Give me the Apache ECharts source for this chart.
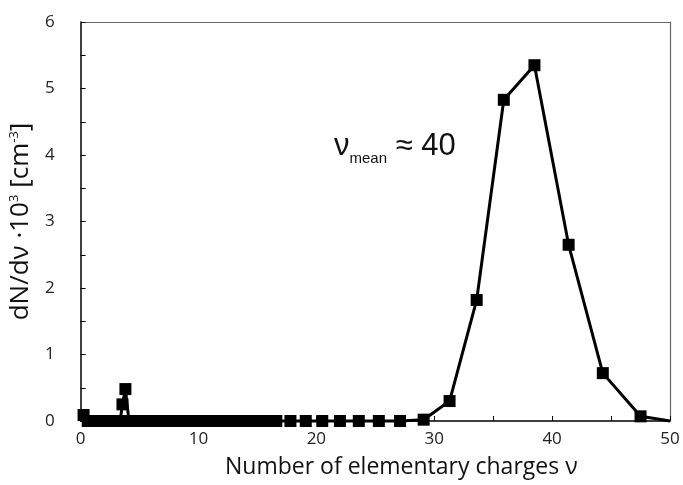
<!DOCTYPE html>
<html>
<head>
<meta charset="utf-8">
<script src="https://cdn.jsdelivr.net/npm/echarts@6/dist/echarts.min.js"></script>
<style>
  html, body { margin: 0; padding: 0; background: #fff; }
  #chart { width: 683px; height: 485px; }
</style>
</head>
<body>
<div id="chart"></div>
<script>
// charge numbers (x) and dN/dv * 10^3 (y)
const chargeNu = [
  0.25, 0.6, 0.95, 1.3, 1.65, 2.0, 2.35, 2.7, 3.05, 3.35, 3.55, 3.8, 4.1, 4.5,
  4.9, 5.3, 5.7, 6.1, 6.5, 6.9, 7.3, 7.7, 8.1, 8.5, 8.9, 9.3, 9.7, 10.1, 10.5,
  10.9, 11.3, 11.7, 12.1, 12.5, 12.9, 13.3, 13.7, 14.1, 14.5, 14.9, 15.4, 15.9,
  16.6, 17.8, 19.1, 20.5, 22.0, 23.6, 25.3, 27.1, 29.1, 31.3, 33.6, 35.9, 38.5,
  41.4, 44.3, 47.5, 50
]
const dNdv = [
  0.09, 0, 0, 0, 0, 0, 0, 0, 0, 0, 0.25, 0.48, 0, 0,
  0, 0, 0, 0, 0, 0, 0, 0, 0, 0, 0, 0, 0, 0, 0,
  0, 0, 0, 0, 0, 0, 0, 0, 0, 0, 0, 0, 0,
  0, 0, 0, 0, 0, 0, 0, 0, 0.02, 0.3, 1.82, 4.83, 5.35,
  2.65, 0.72, 0.07, 0.0
]
const xTicks = [0, 10, 20, 30, 40, 50]
const yTicks = [0, 1, 2, 3, 4, 5, 6]

const points = chargeNu.map((x, i) => [x, dNdv[i]])

const chart = echarts.init(document.getElementById('chart'))

const labelFont = {
  fontFamily: 'Open Sans',
  fontSize: 17,
  color: '#222'
}

// plain frame line for top / right
const frameAxis = {
  type: 'value',
  min: 0,
  axisLine: { show: true, onZero: false, lineStyle: { color: '#666', width: 1.2 } },
  axisTick: { show: false },
  axisLabel: { show: false },
  splitLine: { show: false }
}

chart.setOption({
  animation: false,
  backgroundColor: '#fff',
  grid: {
    left: 78,
    right: 13,
    top: 22,
    bottom: 64
  },
  xAxis: [{
    type: 'value',
    min: 0,
    max: 50,
    interval: 5,
    name: 'Number of elementary charges ν',
    nameLocation: 'middle',
    nameGap: 35,
    nameTextStyle: { fontFamily: 'Open Sans', fontSize: 23, color: '#111', padding: [0, 0, 0, 52] },
    axisLine: { lineStyle: { color: '#000', width: 1.5 } },
    axisTick: { inside: true, length: 5, lineStyle: { color: '#000' } },
    axisLabel: Object.assign({}, labelFont, {
      margin: 10,
      formatter: v => (xTicks.includes(v) ? String(v) : '')
    }),
    splitLine: { show: false }
  }, Object.assign({}, frameAxis, { position: 'top', max: 50 })],
  yAxis: [{
    type: 'value',
    min: 0,
    max: 6,
    interval: 0.5,
    name: 'dN/dν ·10{sup|3} [cm{sup|-3}]',
    nameLocation: 'middle',
    nameGap: 37,
    nameTextStyle: {
      fontFamily: 'Open Sans',
      fontSize: 26,
      color: '#111',
      rich: {
        sup: { fontFamily: 'Open Sans', fontSize: 13, color: '#111', verticalAlign: 'top', lineHeight: 14 }
      }
    },
    axisLine: { show: true, lineStyle: { color: '#000', width: 1.5 } },
    axisTick: { show: true, inside: true, length: 5, lineStyle: { color: '#000' } },
    axisLabel: Object.assign({}, labelFont, {
      margin: 26,
      formatter: v => (yTicks.includes(v) ? String(v) : '')
    }),
    splitLine: { show: false }
  }, Object.assign({}, frameAxis, { position: 'right', max: 6 })],
  graphic: [{
    type: 'text',
    left: 334,
    top: 131,
    style: {
      text: '{nu|ν}{sub|mean}{nu| ≈ 40}',
      rich: {
        nu: { fontFamily: 'Liberation Sans', fontSize: 31, fill: '#111', verticalAlign: 'bottom' },
        sub: { fontFamily: 'Liberation Sans', fontSize: 15, fill: '#111', verticalAlign: 'bottom', padding: [0, 0, -4, 0] }
      }
    }
  }],
  series: [{
    type: 'line',
    data: points,
    symbol: 'rect',
    symbolSize: (val, p) => (p.dataIndex === points.length - 1 ? 0 : 12),
    itemStyle: { color: '#000' },
    lineStyle: { color: '#000', width: 3 },
    clip: false
  }]
})
</script>
</body>
</html>
